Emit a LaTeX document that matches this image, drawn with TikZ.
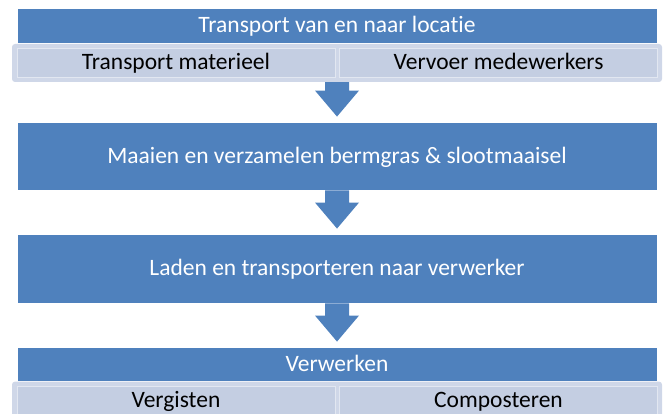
\documentclass[tikz,border=0pt]{standalone}
\usepackage{fontspec}
\setmainfont{Carlito}[RawFeature={-liga;-clig;-calt;-dlig}]
\usepackage{tikz}
\usetikzlibrary{positioning}
\usetikzlibrary{calc}
\definecolor{donkerblauw}{RGB}{79,129,189}
\definecolor{lichtblauw}{RGB}{196,206,226}
\definecolor{kaderblauw}{RGB}{207,215,232}
\tikzset{balk/.style = {fill=donkerblauw, draw=white, line width=0.8pt,
                        minimum width=640pt, inner sep=0pt,
                        text height=17pt, text depth=2pt,
                        text=white, font=\fontsize{23.5}{26}\selectfont},
         kader/.style = {fill=kaderblauw, rounded corners=3pt,
                         minimum width=650pt, minimum height=38pt, inner sep=0pt},
         deel/.style = {fill=lichtblauw, draw=kaderblauw!60!white, line width=0.5pt,
                        minimum width=318pt, minimum height=29pt, inner sep=0pt,
                        text height=17pt, text depth=2pt,
                        text=black, font=\fontsize{23.5}{26}\selectfont}}
% blokpijl van #1 naar #2
\newcommand{\pijl}[2]{%
  \fill[donkerblauw] ([yshift=5pt]#2.north) -- ++(22,26) -- ++(-10,0)
    |- ([xshift=12pt]#1.south) -- ++(-24,0)
    |- ([xshift=-22pt,yshift=31pt]#2.north) -- cycle;}

\begin{document}
\begin{tikzpicture}[x=1pt, y=1pt]
      \useasboundingbox (0,0) rectangle (666,414);
      % transport
      \node [balk, minimum height=35pt] (transport) at (337,388.5) {Transport van en naar locat\kern0pt ie};
      \node [kader] (kader1) at (337,351) {};
      \node [deel] (materieel) at (176,351.5) {Transport materieel};
      \node [deel] (vervoer) at (498.5,351.5) {Vervoer medewerkers};
      % maaien en laden
      \node [balk, minimum height=68pt] (maaien) at (337,258) {Maaien en verzamelen bermgras \& slootmaaisel};
      \node [balk, minimum height=69pt] (laden) at (337,145.5) {Laden en transporteren naar verwerker};
      % verwerken
      \node [balk, minimum height=34pt] (verwerken) at (337,50) {Verwerken};
      \node [kader, anchor=north] (kader2) at (verwerken.south) {};
      \node [deel] (vergisten) at (176,13.5) {Vergisten};
      \node [deel] (composteren) at (498.5,13.5) {Composteren};
      \pijl{kader1}{maaien}
      \pijl{maaien}{laden}
      \pijl{laden}{verwerken}
    \end{tikzpicture}
\end{document}
